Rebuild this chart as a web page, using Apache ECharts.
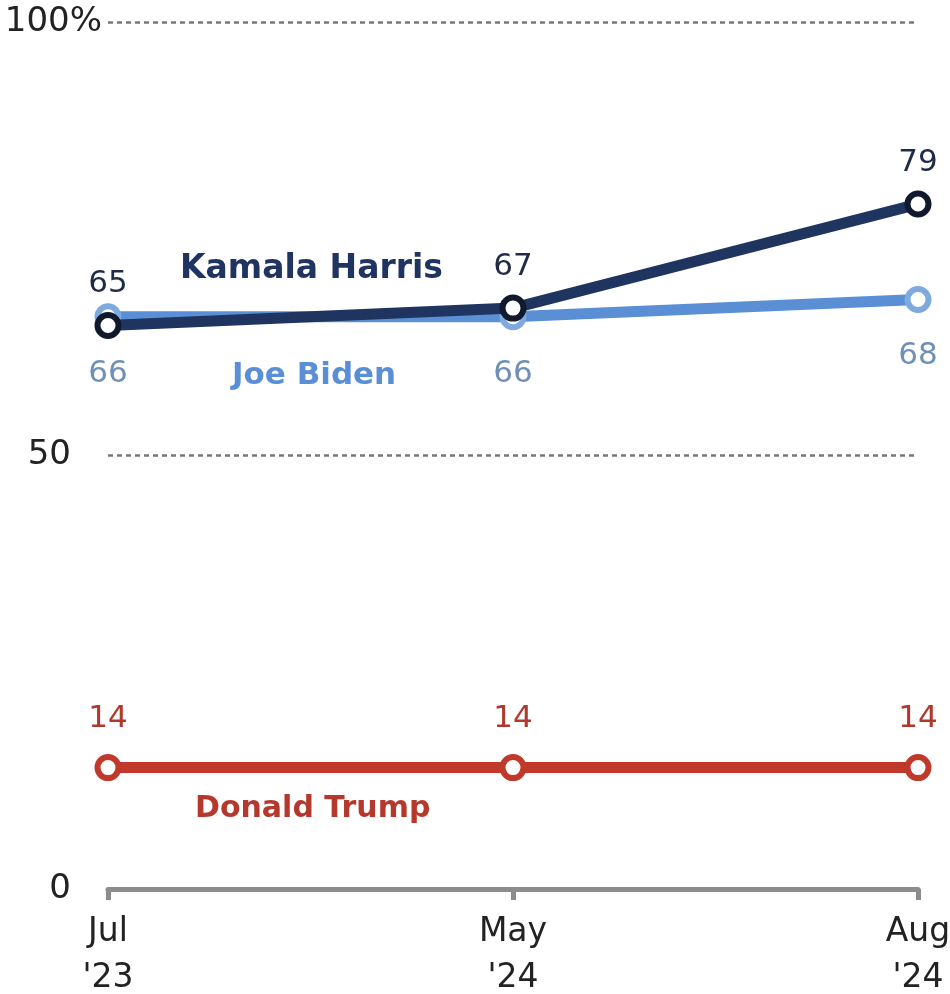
<!DOCTYPE html>
<html>
<head>
<meta charset="utf-8">
<script src="https://cdn.jsdelivr.net/npm/echarts@6/dist/echarts.min.js"></script>
<style>
  html, body { margin: 0; padding: 0; background: #fff; }
  #chart { width: 950px; height: 994px; }
</style>
</head>
<body>
<div id="chart"></div>
<script>
var categories = ["Jul\n'23", "May\n'24", "Aug\n'24"];
var harris = [65, 67, 79];
var biden = [66, 66, 68];
var trump = [14, 14, 14];
var yTicks = [0, 50, 100];

var FONT = "DejaVu Sans";

function lineSeries(name, data, color, border, labelColor, pos, dist, z) {
  return {
    name: name,
    type: "line",
    data: data,
    z: z,
    symbol: "circle",
    symbolSize: 21,
    lineStyle: { color: color, width: 11 },
    itemStyle: { color: "#fff", borderColor: border, borderWidth: 6 },
    label: {
      show: true,
      position: pos,
      distance: dist,
      color: labelColor,
      fontFamily: FONT,
      fontSize: 31
    },
    emphasis: { disabled: true }
  };
}

var myChart = echarts.init(document.getElementById("chart"));
var option = {
  animation: false,
  grid: { left: 108, right: 32, top: 22, bottom: 105, outerBoundsMode: "none", containLabel: false },
  xAxis: {
    type: "category",
    data: categories,
    boundaryGap: false,
    axisLine: { lineStyle: { color: "#8c8c8c", width: 5 } },
    axisTick: { show: true, length: 11, lineStyle: { color: "#8c8c8c", width: 5 } },
    axisLabel: {
      color: "#222",
      fontFamily: FONT,
      fontSize: 33,
      lineHeight: 46,
      margin: 20
    },
    splitLine: { show: false }
  },
  yAxis: {
    type: "value",
    min: 0,
    max: 100,
    interval: 50,
    axisLine: { show: false },
    axisTick: { show: false },
    axisLabel: {
      margin: 6,
      align: "right",
      formatter: function (v) {
        return v === 100 ? "{n|100%}" : "{n|" + v + "}{s|}";
      },
      rich: {
        n: { color: "#222", fontFamily: FONT, fontSize: 34 },
        s: { width: 31 }
      }
    },
    splitLine: {
      show: true,
      lineStyle: { color: "#777", width: 2.5, type: [5, 4] }
    }
  },
  series: [
    lineSeries("Joe Biden", biden, "#5b8fd5", "#7eaadf", "#6f8fb6", "bottom", 28, 2),
    lineSeries("Kamala Harris", harris, "#1f3560", "#111a2c", "#1f2c46", "top", 12, 3),
    lineSeries("Donald Trump", trump, "#c0392b", "#c0392b", "#b0392e", "top", 20, 2)
  ],
  graphic: [
    { type: "text", left: 180, top: 253, style: { text: "Kamala Harris", fill: "#1f3461", font: "bold 33px 'DejaVu Sans'" } },
    { type: "text", left: 232, top: 360, style: { text: "Joe Biden", fill: "#5b8fd5", font: "bold 31px 'DejaVu Sans'" } },
    { type: "text", left: 195, top: 794, style: { text: "Donald Trump", fill: "#b5382c", font: "bold 30px 'DejaVu Sans'" } }
  ]
};
myChart.setOption(option);
</script>
</body>
</html>
